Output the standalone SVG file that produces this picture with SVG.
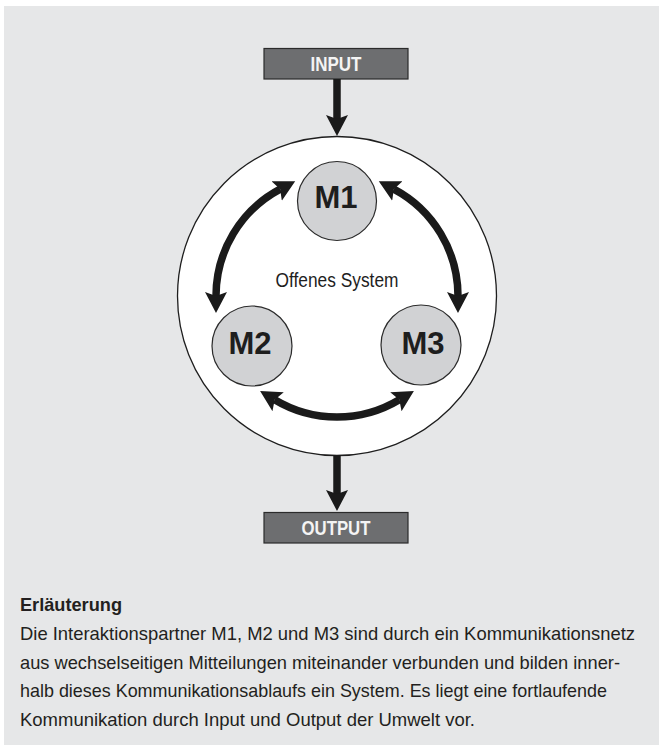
<svg xmlns="http://www.w3.org/2000/svg" width="659" height="751" viewBox="0 0 659 751">
  <style>
    .panel { fill: #e6e7e8; }
    .box { fill: #6d6e70; stroke: #2b2b2b; stroke-width: 1.2; }
    .boxtxt { font-family: "Liberation Sans", Arial, sans-serif; font-weight: bold; font-size: 20px; fill: #f4f4f4; text-anchor: middle; }
    .sys { fill: #ffffff; stroke: #1e1e1e; stroke-width: 1.3; }
    .node { fill: #d1d2d4; stroke: #2b2b2b; stroke-width: 1.2; }
    .ntxt { font-family: "Liberation Sans", Arial, sans-serif; font-weight: bold; font-size: 31px; fill: #1e1e1e; text-anchor: middle; }
    .lbl { font-family: "Liberation Sans", Arial, sans-serif; font-size: 19.5px; fill: #1e1e1e; text-anchor: middle; }
    .conn { fill: none; stroke: #1a1a1a; stroke-width: 7.5; }
    .head { fill: #1a1a1a; }
    .h { font-family: "Liberation Sans", Arial, sans-serif; font-weight: bold; font-size: 19px; fill: #231f20; }
    .body { font-family: "Liberation Sans", Arial, sans-serif; font-size: 18.5px; fill: #231f20; }
  </style>
  <defs>
    <marker id="ah" markerUnits="userSpaceOnUse" viewBox="0 -12 24 24" refX="4" refY="0" markerWidth="24" markerHeight="24" orient="auto-start-reverse">
      <path class="head" d="M0,-11 L21,0 L0,11 L4,0 z"/>
    </marker>
  </defs>
  <rect class="panel" x="4" y="6" width="655" height="739"/>

  <g id="system">
    <circle class="sys" cx="337" cy="296" r="159.5"/>
    <text class="lbl" x="337" y="287" textLength="123" lengthAdjust="spacingAndGlyphs">Offenes System</text>
  </g>

  <g id="input">
    <rect class="box" x="264" y="48.5" width="144" height="30.5"/>
    <text class="boxtxt" x="336" y="71" textLength="51" lengthAdjust="spacingAndGlyphs">INPUT</text>
  </g>

  <g id="output">
    <rect class="box" x="264" y="512.5" width="144" height="30.5"/>
    <text class="boxtxt" x="336" y="535" textLength="69" lengthAdjust="spacingAndGlyphs">OUTPUT</text>
  </g>

  <g id="M1">
    <circle class="node" cx="337" cy="201" r="39.5"/>
    <text class="ntxt" x="336" y="208">M1</text>
  </g>
  <g id="M2">
    <circle class="node" cx="252" cy="346" r="40"/>
    <text class="ntxt" x="250" y="354">M2</text>
  </g>
  <g id="M3">
    <circle class="node" cx="421" cy="345" r="40"/>
    <text class="ntxt" x="423" y="354">M3</text>
  </g>

  <g id="connectors">
    <path class="conn" d="M337,79 L337,119" marker-end="url(#ah)"/>
    <path class="conn" d="M337,455 L337,494" marker-end="url(#ah)"/>
    <path class="conn" d="M280.19,189.16 A121,121 0 0 0 216,296" marker-start="url(#ah)" marker-end="url(#ah)"/>
    <path class="conn" d="M393.81,189.16 A121,121 0 0 1 458,296" marker-start="url(#ah)" marker-end="url(#ah)"/>
    <path class="conn" d="M399.32,399.72 A121,121 0 0 1 274.68,399.72" marker-start="url(#ah)" marker-end="url(#ah)"/>
  </g>

  <g id="legend">
    <text class="h" x="20" y="611" textLength="102" lengthAdjust="spacingAndGlyphs">Erläuterung</text>
    <text class="body" x="20" y="640" textLength="615" lengthAdjust="spacingAndGlyphs">Die Interaktionspartner M1, M2 und M3 sind durch ein Kommunikationsnetz</text>
    <text class="body" x="20" y="669" textLength="600" lengthAdjust="spacingAndGlyphs">aus wechselseitigen Mitteilungen miteinander verbunden und bilden inner-</text>
    <text class="body" x="20" y="697" textLength="587" lengthAdjust="spacingAndGlyphs">halb dieses Kommunikationsablaufs ein System. Es liegt eine fortlaufende</text>
    <text class="body" x="20" y="726" textLength="455" lengthAdjust="spacingAndGlyphs">Kommunikation durch Input und Output der Umwelt vor.</text>
  </g>
</svg>
